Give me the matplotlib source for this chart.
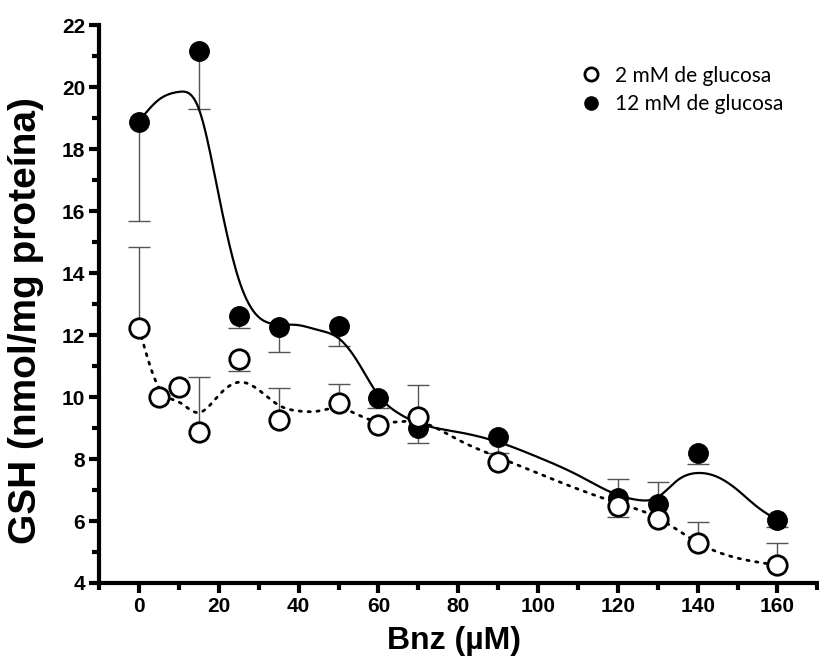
import numpy as np
import matplotlib.pyplot as plt
from matplotlib.ticker import MultipleLocator

# Bnz concentrations (uM)
bnz_2 = [0, 5, 10, 15, 25, 35, 50, 60, 70, 90, 120, 130, 140, 160]
gsh_2 = [12.23, 10.0, 10.32, 8.87, 11.23, 9.26, 9.8, 9.1, 9.35, 7.9, 6.5, 6.06, 5.29, 4.58]
err_lo_2 = [0, 0, 0, 0, 0.39, 0, 0, 0, 0, 0, 0.37, 0, 0, 0]
err_hi_2 = [2.61, 0, 0, 1.78, 0, 1.03, 0.62, 0, 1.04, 0, 0, 0, 0.68, 0.71]

bnz_12 = [0, 15, 25, 35, 50, 60, 70, 90, 120, 130, 140, 160]
gsh_12 = [18.87, 21.16, 12.61, 12.26, 12.29, 9.97, 9.0, 8.7, 6.74, 6.55, 8.19, 6.03]
err_lo_12 = [3.19, 1.87, 0.38, 0.81, 0.64, 0.32, 0.48, 0.5, 0, 0, 0.35, 0.23]
err_hi_12 = [0, 0, 0, 0, 0, 0, 0, 0, 0.61, 0.71, 0, 0]

# fitted curves, values
fit_x_12 = [0, 5, 10, 15, 20, 25, 30, 35, 40, 45, 50, 55, 60, 65, 70, 80, 90, 100,
            110, 120, 125, 130, 135, 140, 145, 150, 155, 160]
fit_y_12 = [18.9, 19.6, 19.85, 19.3, 16.5, 13.8, 12.58, 12.35, 12.32, 12.16, 11.9,
            11.1, 10.06, 9.48, 9.16, 8.87, 8.55, 8.06, 7.48, 6.84, 6.68, 6.77, 7.32,
            7.55, 7.42, 7.0, 6.45, 6.03]
fit_x_2 = [0, 5, 10, 15, 20, 25, 30, 35, 40, 45, 50, 55, 60, 70, 80, 90, 120, 130, 140, 160]
fit_y_2 = [12.23, 10.3, 9.84, 9.5, 10.06, 10.48, 10.23, 9.74, 9.55, 9.55, 9.65, 9.42,
           9.2, 9.2, 8.62, 8.06, 6.58, 6.1, 5.3, 4.58]


def natural_spline(xk, yk, xs):
    xk = np.asarray(xk, float)
    yk = np.asarray(yk, float)
    n = len(xk)
    h = np.diff(xk)
    A = np.zeros((n, n))
    b = np.zeros(n)
    A[0, 0] = A[-1, -1] = 1
    for i in range(1, n - 1):
        A[i, i - 1] = h[i - 1]
        A[i, i] = 2 * (h[i - 1] + h[i])
        A[i, i + 1] = h[i]
        b[i] = 3 * ((yk[i + 1] - yk[i]) / h[i] - (yk[i] - yk[i - 1]) / h[i - 1])
    c = np.linalg.solve(A, b)
    bb = (yk[1:] - yk[:-1]) / h - h * (2 * c[:-1] + c[1:]) / 3
    d = (c[1:] - c[:-1]) / (3 * h)
    idx = np.clip(np.searchsorted(xk, xs) - 1, 0, n - 2)
    t = xs - xk[idx]
    return yk[idx] + bb[idx] * t + c[idx] * t ** 2 + d[idx] * t ** 3


def one_sided_errors(ax, x, y, lo, hi):
    # draw only the half of each error bar that is shown in the figure
    x, y, lo, hi = map(np.asarray, (x, y, lo, hi))
    for err, sign in ((hi, 1), (lo, -1)):
        m = err > 0
        ends = y[m] + sign * err[m]
        ax.vlines(x[m], y[m], ends, color='#555555', lw=1.0, zorder=1)
        ax.plot(x[m], ends, '_', ms=16, mew=1.0, color='#555555', zorder=1)


fig = plt.figure(figsize=(8.19, 6.64), dpi=100)
ax = fig.add_axes([0.121, 0.122, 0.877, 0.84])

xs = np.linspace(0, 160, 600)
ax.plot(xs, natural_spline(fit_x_12, fit_y_12, xs), color='black', lw=1.6, zorder=2)
ax.plot(xs, natural_spline(fit_x_2, fit_y_2, xs), color='black', lw=2.0,
        linestyle=(0, (0.8, 2.4)), dash_capstyle='round', zorder=2)

one_sided_errors(ax, bnz_12, gsh_12, err_lo_12, err_hi_12)
one_sided_errors(ax, bnz_2, gsh_2, err_lo_2, err_hi_2)

ax.plot(bnz_12, gsh_12, 'o', ms=14, mfc='black', mec='black', zorder=3)
ax.plot(bnz_2, gsh_2, 'o', ms=14, mfc='white', mec='black', mew=2.0, zorder=4)

ax.set_xlim(-10, 170)
ax.set_ylim(4, 22)
ax.xaxis.set_major_locator(MultipleLocator(20))
ax.xaxis.set_minor_locator(MultipleLocator(10))
ax.yaxis.set_major_locator(MultipleLocator(2))
ax.yaxis.set_minor_locator(MultipleLocator(1))

for s in ['top', 'right']:
    ax.spines[s].set_visible(False)
for s in ['left', 'bottom']:
    ax.spines[s].set_linewidth(3)

ax.tick_params(which='major', direction='out', length=7, width=3, labelsize=15, pad=3)
ax.tick_params(which='minor', direction='out', length=5, width=3)
for lab in ax.get_xticklabels() + ax.get_yticklabels():
    lab.set_fontfamily('Liberation Sans')
    lab.set_fontweight('bold')

ax.set_xlabel('Bnz (µM)', fontsize=23, fontweight='bold', family='Liberation Sans')
ax.set_ylabel('GSH (nmol/mg proteína)', fontsize=28, fontweight='bold',
              family='Liberation Sans')
ax.xaxis.set_label_coords(0.494, -0.078)
ax.yaxis.set_label_coords(-0.077, 0.471)

# legend
h1, = ax.plot([], [], 'o', ms=9.5, mfc='white', mec='black', mew=2)
h2, = ax.plot([], [], 'o', ms=9.5, mfc='black', mec='black')
ax.legend([h1, h2], ['2 mM de glucosa', '12 mM de glucosa'], loc='upper left',
          bbox_to_anchor=(0.656, 0.946), borderpad=0, frameon=False,
          handletextpad=0.65, labelspacing=0.4, handlelength=1.0,
          prop={'family': 'Lato', 'size': 15})

fig.savefig('out.png', dpi=100)
